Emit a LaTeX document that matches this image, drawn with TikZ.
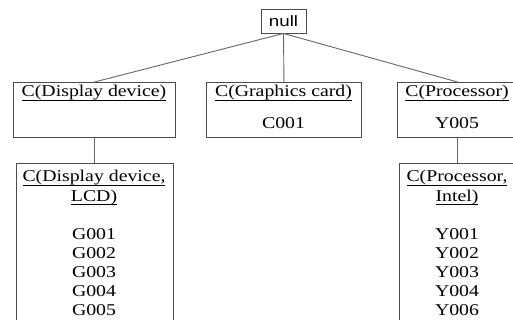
\documentclass[tikz,border=0pt]{standalone}
\usepackage{fontspec}
\setmainfont{Liberation Serif}[FakeStretch=1.2]
\newfontfamily\rootsans{Liberation Sans}[FakeStretch=1.25]
\usetikzlibrary{positioning}
% underline sitting close to the baseline
\newcommand\uhead[1]{\underline{\raisebox{0pt}[\height][1.6pt]{#1}}}

\begin{document}
\begin{tikzpicture}[
    x=1pt, y=-1pt,
    box/.style={draw=black!70, line width=0.9pt, inner sep=0pt, anchor=north west},
    txt/.style={font=\fontsize{16.5}{19}\selectfont, inner sep=0pt, anchor=base},
    edge/.style={draw=black!60, line width=0.9pt}
]
\useasboundingbox (0,0) rectangle (513,320);
\clip (0,0) rectangle (513,320);
% root of the tree
\node[draw=black!70, line width=0.9pt, minimum width=45pt, minimum height=24pt,
      inner sep=2pt, font=\rootsans\fontsize{15}{18}\selectfont] (root) at (283.5,21) {null};
% first level
\node[box, minimum width=162pt, minimum height=55pt] (display)  at (13,82)  {};
\node[box, minimum width=155pt, minimum height=55pt] (graphics) at (206,82) {};
\node[box, minimum width=120pt, minimum height=55pt] (proc)     at (397,82) {};
\node[txt] (displayhead)  at (94,97)    {\uhead{C(Display device)}};
\node[txt] (graphicshead) at (283.5,97) {\uhead{C(Graphics card)}};
\node[txt] (prochead)     at (457,97)   {\uhead{C(Processor)}};
\node[txt] (graphicsval)  at (283.5,129) {C001};
\node[txt] (procval)      at (457,129)   {Y005};
% second level
\node[box, minimum width=157pt, minimum height=170pt] (lcd)   at (15.5,163) {};
\node[box, minimum width=116pt, minimum height=170pt] (intel) at (399,163)  {};
\node[txt] (lcdhead1)   at (94,182)  {\uhead{C(Display device,}};
\node[txt] (lcdhead2)   at (94,201)  {\uhead{LCD)}};
\node[txt] (intelhead1) at (457,182) {\uhead{C(Processor,}};
\node[txt] (intelhead2) at (457,201) {\uhead{Intel)}};
\foreach \v [count=\i from 0] in {G001,G002,G003,G004,G005}
  \node[txt] (lcdval\i) at (94,{239+19*\i}) {\v};
\foreach \v [count=\i from 0] in {Y001,Y002,Y003,Y004,Y006}
  \node[txt] (intelval\i) at (457,{239+19*\i}) {\v};
% connectors
\draw[edge] (root.south) -- (display.north);
\draw[edge] (root.south) -- (graphics.north);
\draw[edge] (root.south) -- (proc.north);
\draw[edge] (display.south) -- (lcd.north);
\draw[edge] (proc.south) -- (intel.north);
\end{tikzpicture}
\end{document}
